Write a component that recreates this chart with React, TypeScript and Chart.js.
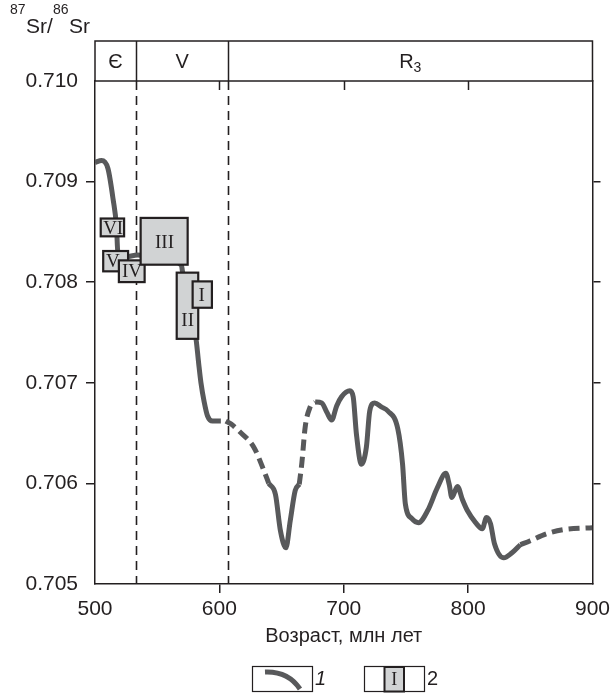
import React, { useEffect, useRef } from 'react';
import { Chart, registerables } from 'chart.js';

Chart.register(...registerables);

// ---- data ----
const xTicks = [500, 600, 700, 800, 900];
const yTicks = [0.705, 0.706, 0.707, 0.708, 0.709, 0.71];

// solid segment A (Cambrian – Vendian)
const ageA = [500, 505.3, 510.4, 514.6, 517.3, 518.4, 524, 534.3, 551.9, 569.5, 570.3, 581.2, 583.3, 585.2, 587.8, 590.5, 594.5, 601.2];
const srA = [0.70919, 0.70921, 0.70913, 0.70882, 0.70855, 0.70829, 0.70825, 0.70827, 0.70824, 0.70817, 0.70811, 0.70744, 0.7072, 0.707, 0.70681, 0.70667, 0.70662, 0.70662];
// dashed segment B
const ageB = [605.2, 609.5, 615.8, 627.7, 635.7, 639.7];
const srB = [0.70662, 0.70659, 0.70652, 0.70636, 0.70613, 0.706];
// solid segment C
const ageC = [639.7, 645.1, 649.1, 653.5, 657.0, 661.0, 664.2];
const srC = [0.706, 0.70589, 0.70553, 0.70536, 0.70563, 0.70593, 0.70599];
// dashed segment D
const ageD = [664.2, 666.3, 669.0, 673.0, 677.0];
const srD = [0.70599, 0.7062, 0.70656, 0.70676, 0.70681];
// solid segment E
const ageE = [677.0, 682.3, 686.3, 690.3, 694.3, 698.2, 704.9, 707.6, 710.2, 714.2, 718.2, 720.9, 724.9, 730.2, 735.5, 743.5, 747.3, 749.5, 754.8, 760.1, 767.5, 775.4, 782.1, 784.8, 786.9, 791.4, 795.4, 799.4, 806.0, 811.4, 814.8, 818.0, 821.2, 828.7, 835.3, 842.0];
const srE = [0.70681, 0.7068, 0.70671, 0.70663, 0.70677, 0.70686, 0.70692, 0.70686, 0.70649, 0.70619, 0.70636, 0.70672, 0.7068, 0.70676, 0.70672, 0.70654, 0.70619, 0.7058, 0.70565, 0.70561, 0.70573, 0.70596, 0.7061, 0.70599, 0.70586, 0.70597, 0.70584, 0.70573, 0.70561, 0.70555, 0.70566, 0.7056, 0.7054, 0.70526, 0.70531, 0.70539];
// dashed segment F
const ageF = [842.0, 850.0, 863.3, 876.6, 900];
const srF = [0.70539, 0.70543, 0.7055, 0.70554, 0.70556];

// sample boxes (legend item 2)
const sampleLabels = ['VI', 'V', 'IV', 'III', 'II', 'I'];
const sampleAgeMin = [504.6, 506.6, 519.2, 536.7, 565.7, 578.5];
const sampleAgeMax = [523.4, 526.6, 539.9, 574.5, 583.0, 594.0];
const sampleSrMin = [0.708456, 0.708108, 0.708001, 0.708174, 0.707437, 0.707746];
const sampleSrMax = [0.708633, 0.70831, 0.708217, 0.708639, 0.708095, 0.708008];
const sampleLabelAge = [514.6, 514.4, 529.7, 555.9, 574.5, 585.8];
const sampleLabelSr = [0.708538, 0.708207, 0.708108, 0.708401, 0.707625, 0.707876];

// geological periods
const periodBounds = [533, 607];
const periodNames = ['Є', 'V', 'R'];
const periodSubs = ['', '', '3'];

const INK = '#231f20';
const CURVE = '#58595b';
const BOX_FILL = '#d1d3d4';
const SANS = '"Liberation Sans", Arial, sans-serif';
const SERIF = '"Liberation Serif", "Times New Roman", serif';
const DASH = [11, 6];

const near = (a: number, b: number) => Math.abs(a - b) < 1e-9;

const seg = (ages: number[], srs: number[], dashed: boolean) => ({
  data: ages.map((a, i) => ({ x: a, y: srs[i] })),
  borderColor: CURVE,
  borderWidth: 5,
  pointRadius: 0,
  fill: false,
  cubicInterpolationMode: 'monotone' as const,
  borderDash: dashed ? DASH : [],
  borderCapStyle: 'butt' as const,
  borderJoinStyle: 'round' as const,
});

const decor = {
  id: 'decor',
  beforeDatasetsDraw(chart: any) {
    const { ctx, chartArea, scales } = chart;
    const x = scales.x;
    ctx.save();
    ctx.strokeStyle = INK;
    ctx.lineWidth = 1.6;
    ctx.setLineDash([9, 6]);
    periodBounds.forEach((a) => {
      const px = Math.round(x.getPixelForValue(a)) + 0.5;
      ctx.beginPath();
      ctx.moveTo(px, chartArea.top);
      ctx.lineTo(px, chartArea.bottom);
      ctx.stroke();
    });
    ctx.restore();
  },
  afterDatasetsDraw(chart: any) {
    const { ctx, scales } = chart;
    const x = scales.x;
    const y = scales.y;
    ctx.save();
    sampleLabels.forEach((lab, i) => {
      const x0 = x.getPixelForValue(sampleAgeMin[i]);
      const x1 = x.getPixelForValue(sampleAgeMax[i]);
      const y0 = y.getPixelForValue(sampleSrMax[i]);
      const y1 = y.getPixelForValue(sampleSrMin[i]);
      ctx.fillStyle = BOX_FILL;
      ctx.fillRect(x0, y0, x1 - x0, y1 - y0);
      ctx.lineWidth = 2.2;
      ctx.strokeStyle = INK;
      ctx.strokeRect(x0, y0, x1 - x0, y1 - y0);
      ctx.fillStyle = INK;
      ctx.font = `19px ${SERIF}`;
      ctx.textAlign = 'center';
      ctx.textBaseline = 'middle';
      ctx.fillText(lab, x.getPixelForValue(sampleLabelAge[i]), y.getPixelForValue(sampleLabelSr[i]) + 1);
    });
    ctx.restore();
  },
  afterDraw(chart: any) {
    const { ctx, chartArea, scales } = chart;
    const { top, left, right } = chartArea;
    const x = scales.x;
    const bandTop = top - 40;
    ctx.save();
    // band frame
    ctx.strokeStyle = INK;
    ctx.lineWidth = 1.5;
    ctx.setLineDash([]);
    ctx.strokeRect(left, bandTop, right - left, 40);
    periodBounds.forEach((a) => {
      const px = Math.round(x.getPixelForValue(a)) + 0.5;
      ctx.beginPath();
      ctx.moveTo(px, bandTop);
      ctx.lineTo(px, top);
      ctx.stroke();
    });
    // top inward ticks
    xTicks.forEach((v) => {
      if (v === x.min || v === x.max) return;
      const px = Math.round(x.getPixelForValue(v)) + 0.5;
      ctx.beginPath();
      ctx.moveTo(px, top);
      ctx.lineTo(px, top + 9);
      ctx.stroke();
    });
    // period labels
    const edges = [x.min, ...periodBounds, x.max];
    ctx.fillStyle = INK;
    ctx.textBaseline = 'alphabetic';
    ctx.textAlign = 'left';
    periodNames.forEach((name, i) => {
      const cx = (x.getPixelForValue(edges[i]) + x.getPixelForValue(edges[i + 1])) / 2;
      ctx.font = `20px ${SANS}`;
      const w1 = ctx.measureText(name).width;
      ctx.font = `14px ${SANS}`;
      const w2 = periodSubs[i] ? ctx.measureText(periodSubs[i]).width : 0;
      const start = cx - (w1 + w2) / 2;
      ctx.font = `20px ${SANS}`;
      ctx.fillText(name, start, bandTop + 27);
      if (periodSubs[i]) {
        ctx.font = `14px ${SANS}`;
        ctx.fillText(periodSubs[i], start + w1, bandTop + 31);
      }
    });
    // y axis title 87Sr/86Sr
    const parts: [string, boolean][] = [['87', true], ['Sr/', false], ['86', true], ['Sr', false]];
    let tx = 10;
    parts.forEach(([t, sup]) => {
      ctx.font = sup ? `14px ${SANS}` : `21px ${SANS}`;
      ctx.fillText(t, tx, sup ? 14 : 33);
      tx += ctx.measureText(t).width + (sup ? 0.5 : 0);
    });
    // legend
    ctx.lineWidth = 1.2;
    ctx.strokeStyle = INK;
    ctx.strokeRect(252.5, 666.5, 60, 25);
    ctx.strokeRect(364.5, 666.5, 60, 25);
    ctx.beginPath();
    ctx.strokeStyle = CURVE;
    ctx.lineWidth = 5;
    ctx.lineCap = 'butt';
    ctx.moveTo(265, 672);
    ctx.quadraticCurveTo(288, 671, 300, 689);
    ctx.stroke();
    ctx.fillStyle = BOX_FILL;
    ctx.fillRect(384.5, 667, 19.5, 24.5);
    ctx.strokeStyle = INK;
    ctx.lineWidth = 2;
    ctx.strokeRect(384.5, 667, 19.5, 24.5);
    ctx.fillStyle = INK;
    ctx.font = `18px ${SERIF}`;
    ctx.textAlign = 'center';
    ctx.textBaseline = 'middle';
    ctx.fillText('I', 394.3, 680);
    ctx.textAlign = 'left';
    ctx.font = `italic 20px ${SANS}`;
    ctx.fillText('1', 315, 679);
    ctx.font = `20px ${SANS}`;
    ctx.fillText('2', 427, 679);
    ctx.restore();
  },
};

export default function App() {
  const ref = useRef<HTMLCanvasElement | null>(null);
  useEffect(() => {
    if (!ref.current) return;
    const chart = new Chart(ref.current, {
      type: 'line',
      data: {
        datasets: [
          seg(ageA, srA, false),
          seg(ageB, srB, true),
          seg(ageC, srC, false),
          seg(ageD, srD, true),
          seg(ageE, srE, false),
          seg(ageF, srF, true),
        ],
      },
      options: {
        animation: false,
        responsive: false,
        devicePixelRatio: 1,
        layout: { padding: { top: 81, left: 0, right: 9, bottom: 49 } },
        plugins: { legend: { display: false }, tooltip: { enabled: false } },
        scales: {
          x: {
            type: 'linear',
            position: 'bottom',
            min: 500,
            max: 900,
            afterBuildTicks: (s: any) => {
              s.ticks = xTicks.map((v) => ({ value: v }));
            },
            afterFit: (s: any) => {
              s.height = 64;
            },
            ticks: {
              font: { family: SANS, size: 21 },
              color: INK,
              padding: 4,
              maxRotation: 0,
              autoSkip: false,
            },
            grid: {
              drawOnChartArea: false,
              drawTicks: true,
              tickLength: 9,
              lineWidth: 1.5,
              color: (c: any) => (c.tick && (c.tick.value === 500 || c.tick.value === 900) ? 'rgba(0,0,0,0)' : INK),
            },
            border: { display: true, color: INK, width: 1.5 },
            title: {
              display: true,
              text: 'Возраст, млн лет',
              font: { family: SANS, size: 20 },
              color: INK,
              padding: { top: 0, bottom: 0 },
            },
          },
          y: {
            type: 'linear',
            position: 'left',
            min: 0.705,
            max: 0.71,
            afterBuildTicks: (s: any) => {
              s.ticks = yTicks.map((v) => ({ value: v }));
            },
            afterFit: (s: any) => {
              s.width = 95;
            },
            ticks: {
              font: { family: SANS, size: 21 },
              color: INK,
              padding: 8,
              callback: (v: any) => Number(v).toFixed(3),
            },
            grid: {
              drawOnChartArea: false,
              drawTicks: true,
              tickLength: 9,
              lineWidth: 1.5,
              color: (c: any) => (c.tick && (near(c.tick.value, 0.705) || near(c.tick.value, 0.71)) ? 'rgba(0,0,0,0)' : INK),
            },
            border: { display: true, color: INK, width: 1.5 },
          },
          y2: {
            type: 'linear',
            position: 'right',
            min: 0.705,
            max: 0.71,
            afterBuildTicks: (s: any) => {
              s.ticks = yTicks.map((v) => ({ value: v }));
            },
            afterFit: (s: any) => {
              s.width = 9;
            },
            ticks: { display: false },
            grid: {
              drawOnChartArea: false,
              drawTicks: true,
              tickLength: 8,
              lineWidth: 1.5,
              color: (c: any) => (c.tick && (near(c.tick.value, 0.705) || near(c.tick.value, 0.71)) ? 'rgba(0,0,0,0)' : INK),
            },
            border: { display: true, color: INK, width: 1.5 },
          },
        },
      },
      plugins: [decor],
    } as any);
    return () => chart.destroy();
  }, []);
  return (
    <div style={{ position: 'absolute', left: 0, top: 0, width: 614, height: 697, background: '#fff' }}>
      <canvas ref={ref} width={614} height={697} style={{ display: 'block', width: 614, height: 697 }} />
    </div>
  );
}
